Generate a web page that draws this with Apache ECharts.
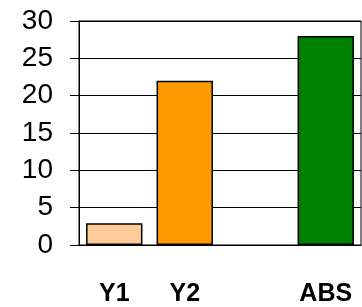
<!DOCTYPE html>
<html>
<head>
<meta charset="utf-8">
<script src="https://cdn.jsdelivr.net/npm/echarts@6/dist/echarts.min.js"></script>
<style>
  html, body { margin: 0; padding: 0; background: #fff; }
  #chart { width: 362px; height: 307px; }
</style>
</head>
<body>
<div id="chart"></div>
<script>
// categories and values (third slot is empty)
const categories = ['Y1', 'Y2', '', 'ABS'];
const values = [2.9, 22, null, 28];
const barColors = ['#FFCC99', '#FF9900', '#FFFFFF', '#008000'];

const chart = echarts.init(document.getElementById('chart'));

chart.setOption({
  animation: false,
  backgroundColor: '#fff',
  grid: {
    left: 79,
    right: 1,
    top: 21,
    bottom: 59,
    show: true,
    borderColor: '#000',
    borderWidth: 1
  },
  xAxis: {
    type: 'category',
    data: categories,
    axisLine: { lineStyle: { color: '#000', width: 1 } },
    axisTick: { show: false },
    axisLabel: {
      color: '#000',
      fontFamily: 'Liberation Sans',
      fontWeight: 'bold',
      fontSize: 25,
      margin: 37
    }
  },
  yAxis: {
    type: 'value',
    min: 0,
    max: 30,
    interval: 5,
    axisLine: { show: true, lineStyle: { color: '#000', width: 1 } },
    axisTick: { show: true, length: 9, lineStyle: { color: '#000' } },
    splitLine: { lineStyle: { color: '#000', width: 1 } },
    axisLabel: {
      color: '#000',
      fontFamily: 'Liberation Sans',
      fontSize: 28,
      margin: 26
    }
  },
  series: [{
    type: 'bar',
    barWidth: '80%',
    data: values.map((v, i) => ({
      value: v,
      itemStyle: { color: barColors[i], borderColor: '#000', borderWidth: 1.5 }
    }))
  }]
});
</script>
</body>
</html>
